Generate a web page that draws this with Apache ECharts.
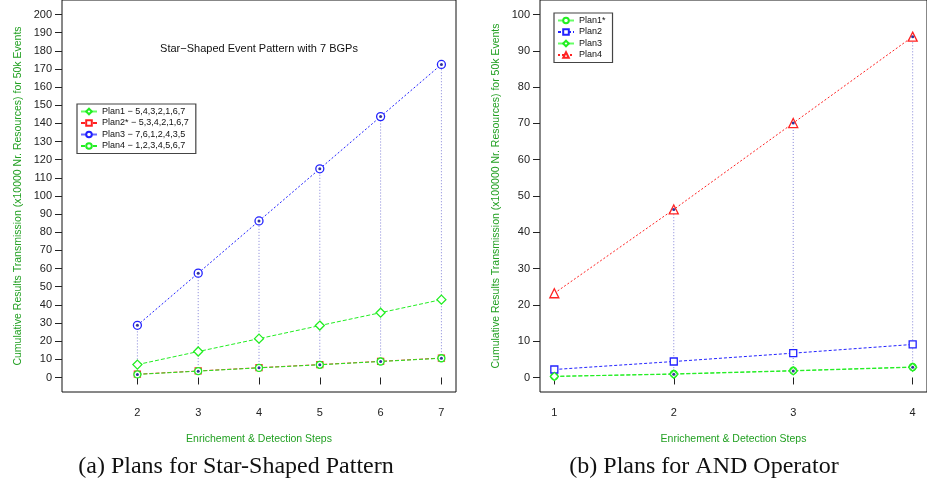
<!DOCTYPE html>
<html>
<head>
<meta charset="utf-8">
<script src="https://cdn.jsdelivr.net/npm/echarts@6/dist/echarts.min.js"></script>
<style>
  html, body { margin: 0; padding: 0; background: #fff; }
  #chart { width: 927px; height: 495px; }
</style>
</head>
<body>
<div id="chart"></div>
<script>
// (a) star-shaped pattern
const stepsA = [2, 3, 4, 5, 6, 7];
const plan1A = [7.1, 14.3, 21.4, 28.6, 35.7, 42.9];
const plan2A = [1.8, 3.6, 5.4, 7.1, 8.9, 10.7];
const plan3A = [28.75, 57.5, 86.25, 115, 143.75, 172.5];
const plan4A = [1.7, 3.5, 5.3, 7.0, 8.8, 10.6];
const yTicksA = [0, 10, 20, 30, 40, 50, 60, 70, 80, 90, 100, 110, 120, 130, 140, 150, 160, 170, 180, 190, 200];
const namesA = ['Plan1 − 5,4,3,2,1,6,7', 'Plan2* − 5,3,4,2,1,6,7', 'Plan3 − 7,6,1,2,4,3,5', 'Plan4 − 1,2,3,4,5,6,7'];

// (b) AND operator
const stepsB = [1, 2, 3, 4];
const plan1B = [0.3, 1.0, 1.9, 2.9];
const plan2B = [2.2, 4.4, 6.7, 9.1];
const plan3B = [0.3, 0.9, 1.8, 2.8];
const plan4B = [23.2, 46.3, 70.1, 93.9];
const dropStepsB = [2, 3, 4];
const yTicksB = [0, 10, 20, 30, 40, 50, 60, 70, 80, 90, 100];
const namesB = ['Plan1*', 'Plan2', 'Plan3', 'Plan4'];

const GREEN = '#22ee22', BLUE = '#2222ff', RED = '#ff2222', NAVY = '#000080';
const AXIS_GREEN = '#22a022';

const pairs = (xs, ys) => xs.map((x, i) => [x, ys[i]]);

// vertical dotted lines from the highest to the lowest plan at each step
function drops(xs, allX, seriesList) {
  return xs.map(x => {
    const i = allX.indexOf(x);
    const vals = seriesList.map(s => s[i]);
    return [x, Math.min(...vals), Math.max(...vals)];
  });
}
const dropA = drops(stepsA, stepsA, [plan1A, plan2A, plan3A, plan4A]);
const dropB = drops(dropStepsB, stepsB, [plan1B, plan2B, plan3B, plan4B]);

function lineSeries(name, idx, data, color, symbol, size, dash) {
  return {
    name, type: 'line', xAxisIndex: idx, yAxisIndex: idx,
    data, symbol, symbolSize: size, showAllSymbol: true,
    lineStyle: { color, width: 1, type: dash },
    itemStyle: { color: '#fff', borderColor: color, borderWidth: 1.3 },
    z: 3, animation: false
  };
}
function dropSeries(idx, data) {
  return {
    type: 'custom', xAxisIndex: idx, yAxisIndex: idx, data,
    encode: { x: 0, y: [1, 2] }, z: 2, animation: false, silent: true,
    renderItem: (params, api) => {
      const p1 = api.coord([api.value(0), api.value(1)]);
      const p2 = api.coord([api.value(0), api.value(2)]);
      return {
        type: 'line',
        shape: { x1: p1[0], y1: p1[1], x2: p2[0], y2: p2[1] },
        style: { stroke: '#8484d8', lineWidth: 1, lineDash: [1, 2] }
      };
    }
  };
}
function dotSeries(idx, data) {
  const pts = [];
  data.forEach(d => { pts.push([d[0], d[1]]); pts.push([d[0], d[2]]); });
  return {
    type: 'scatter', xAxisIndex: idx, yAxisIndex: idx, data: pts,
    symbolSize: 3, itemStyle: { color: NAVY }, z: 4, silent: true, animation: false
  };
}

function xAxisCfg(idx, min, max, ticks) {
  return {
    type: 'value', gridIndex: idx, min, max,
    name: 'Enrichement & Detection Steps', nameLocation: 'middle', nameGap: 42,
    nameTextStyle: { color: AXIS_GREEN, fontSize: 10.5, fontFamily: 'Liberation Sans' },
    axisLine: { show: false }, splitLine: { show: false },
    axisTick: { show: true, length: 7, customValues: ticks, lineStyle: { color: '#222' } },
    axisLabel: { customValues: ticks, margin: 15, fontSize: 11, color: '#222', fontFamily: 'Liberation Sans' }
  };
}
function yAxisCfg(idx, min, max, ticks, name) {
  return {
    type: 'value', gridIndex: idx, min, max,
    name, nameLocation: 'middle', nameGap: 38,
    nameTextStyle: { color: AXIS_GREEN, fontSize: 10.5, fontFamily: 'Liberation Sans' },
    axisLine: { show: false }, splitLine: { show: false },
    axisTick: { show: true, length: 7, customValues: ticks, lineStyle: { color: '#222' } },
    axisLabel: { customValues: ticks, margin: 10, fontSize: 11, color: '#222', fontFamily: 'Liberation Sans' }
  };
}

const legendCommon = {
  orient: 'vertical', itemWidth: 16, itemHeight: 7, itemGap: 2.5, padding: [3, 7, 3, 3],
  borderColor: '#444', borderWidth: 1.2, backgroundColor: '#fff',
  textStyle: { fontSize: 9, color: '#111', fontFamily: 'Liberation Sans' }
};

const chart = echarts.init(document.getElementById('chart'));
chart.setOption({
  backgroundColor: '#fff',
  animation: false,
  grid: [
    { left: 62, top: -2, width: 394, height: 394, show: true, borderColor: '#111', borderWidth: 1 },
    { left: 540, top: -1, width: 394, height: 393, show: true, borderColor: '#111', borderWidth: 1 }
  ],
  xAxis: [
    xAxisCfg(0, 0.76, 7.24, stepsA),
    xAxisCfg(1, 0.88, 4.12, stepsB)
  ],
  yAxis: [
    yAxisCfg(0, -8, 208, yTicksA, 'Cumulative Results Transmission (x10000 Nr. Resources) for 50k Events'),
    yAxisCfg(1, -4, 104, yTicksB, 'Cumulative Results Transmission (x100000 Nr. Resources) for 50k Events')
  ],
  legend: [
    Object.assign({}, legendCommon, {
      left: 77, top: 104, data: [
        { name: namesA[0], lineStyle: { type: 'solid', width: 2, color: '#66ff66' } },
        { name: namesA[1] },
        { name: namesA[2], lineStyle: { type: 'solid', width: 2, color: '#6666ff' } },
        { name: namesA[3] }
      ]
    }),
    Object.assign({}, legendCommon, {
      left: 554, top: 13, data: [
        { name: namesB[0], lineStyle: { type: 'solid', width: 2, color: '#66ff66' } },
        { name: namesB[1] },
        { name: namesB[2], lineStyle: { type: 'solid', width: 2, color: '#66ff66' } },
        { name: namesB[3] }
      ]
    })
  ],
  graphic: [
    { type: 'text', x: 259, y: 49, style: { text: 'Star−Shaped Event Pattern with 7 BGPs', fill: '#111', font: '11px "Liberation Sans"', textAlign: 'center', textVerticalAlign: 'middle' } },
    { type: 'text', x: 236, y: 467, style: { text: '(a) Plans for Star-Shaped Pattern', fill: '#111', font: '24px "Liberation Serif"', textAlign: 'center', textVerticalAlign: 'middle' } },
    { type: 'text', x: 704, y: 467, style: { text: '(b) Plans for AND Operator', fill: '#111', font: '24px "Liberation Serif"', textAlign: 'center', textVerticalAlign: 'middle' } }
  ],
  series: [
    dropSeries(0, dropA),
    lineSeries(namesA[0], 0, pairs(stepsA, plan1A), GREEN, 'diamond', 9, [4, 2]),
    lineSeries(namesA[1], 0, pairs(stepsA, plan2A), RED, 'rect', 6, [4, 2]),
    lineSeries(namesA[2], 0, pairs(stepsA, plan3A), BLUE, 'circle', 8, [2, 2]),
    lineSeries(namesA[3], 0, pairs(stepsA, plan4A), GREEN, 'circle', 7, [4, 2]),
    dotSeries(0, dropA),

    dropSeries(1, dropB),
    lineSeries(namesB[0], 1, pairs(stepsB, plan1B), GREEN, 'circle', 7, [4, 2]),
    lineSeries(namesB[1], 1, pairs(stepsB, plan2B), BLUE, 'rect', 7, [3, 2]),
    lineSeries(namesB[2], 1, pairs(stepsB, plan3B), GREEN, 'diamond', 8, [4, 2]),
    lineSeries(namesB[3], 1, pairs(stepsB, plan4B), RED, 'triangle', 9, [2, 2]),
    dotSeries(1, dropB)
  ]
});
</script>
</body>
</html>
